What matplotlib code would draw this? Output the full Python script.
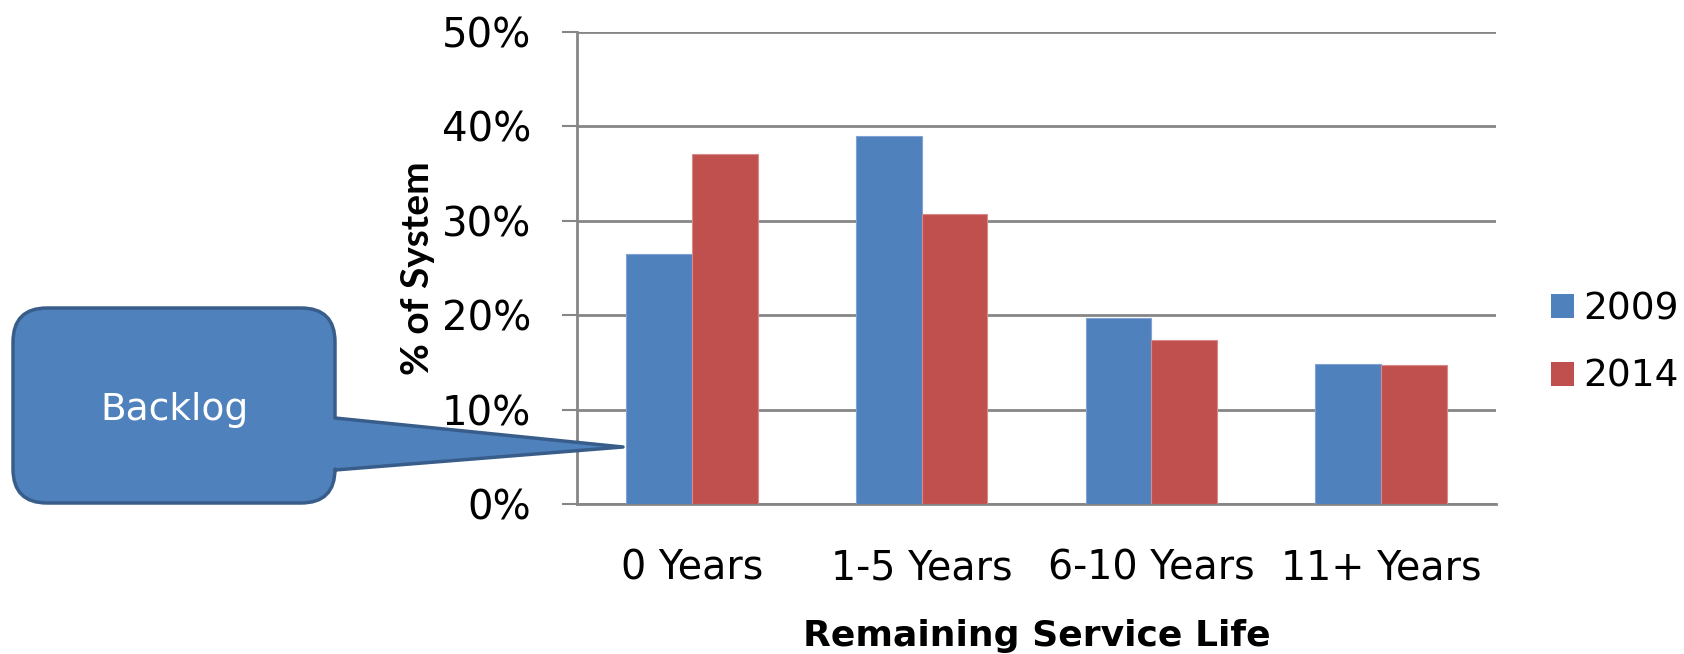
import matplotlib
matplotlib.use("Agg")
import matplotlib.pyplot as plt
import numpy as np
from matplotlib.path import Path
from matplotlib.patches import PathPatch, Patch

categories = ["0 Years", "1-5 Years", "6-10 Years", "11+ Years"]
series_names = ["2009", "2014"]
values_2009 = [26.5, 39.0, 19.7, 14.8]
values_2014 = [37.1, 30.7, 17.4, 14.7]
y_ticks = [0, 10, 20, 30, 40, 50]
y_tick_labels = ["0%", "10%", "20%", "30%", "40%", "50%"]
callout_text = "Backlog"

BLUE = "#4F81BD"
RED = "#C0504D"
GRID = "#868686"
FONT = "DejaVu Sans"

W, H = 1684, 654
fig = plt.figure(figsize=(W / 100, H / 100), dpi=100)
fig.patch.set_facecolor("white")

ax = fig.add_axes([577 / W, 1 - 504 / H, 919 / W, 472 / H])
ax.set_facecolor("none")

x = np.arange(len(categories))
bw = 0.286
ax.bar(x - bw / 2, values_2009, bw, color=BLUE, edgecolor="#7FA3D3", linewidth=0.8, zorder=3)
ax.bar(x + bw / 2, values_2014, bw, color=RED, edgecolor="#D98A88", linewidth=0.8, zorder=3)

ax.set_xlim(-0.5, len(categories) - 0.5)
ax.set_ylim(0, 50)
ax.set_yticks(y_ticks)
ax.set_yticklabels(y_tick_labels, fontsize=29, family=FONT)
ax.set_xticks(x)
ax.set_xticklabels(categories, fontsize=28.5, family=FONT)
ax.yaxis.grid(True, color=GRID, linewidth=2, zorder=1)
ax.set_axisbelow(True)
for s in ["top", "right"]:
    ax.spines[s].set_visible(False)
ax.spines["left"].set_color(GRID)
ax.spines["left"].set_linewidth(2)
ax.spines["bottom"].set_color(GRID)
ax.spines["bottom"].set_linewidth(2)
ax.tick_params(axis="y", length=11, width=1.5, color=GRID, pad=22)
ax.tick_params(axis="x", length=0, pad=32)

ax.set_ylabel("% of System", fontsize=28, fontweight="bold", family="Lato")
ax.yaxis.set_label_coords(-0.174, 0.5)
ax.yaxis.label.set_va("center")
ax.set_xlabel("Remaining Service Life", fontsize=26, fontweight="bold", family=FONT)
ax.xaxis.set_label_coords(0.5, -0.28)
ax.xaxis.label.set_va("center")

# legend
handles = [Patch(facecolor=BLUE), Patch(facecolor=RED)]
leg = fig.legend(handles, series_names, loc="center left", bbox_to_anchor=(1536 / W, 1 - 343 / H),
                 frameon=False, prop={"family": FONT, "size": 27}, handlelength=0.62,
                 handleheight=0.62, handletextpad=0.25, labelspacing=0.85, borderaxespad=0)

# callout shape (pixel coords, y from top)
def P(px, py):
    return (px / W, 1 - py / H)

L, R, T, B, r = 13, 335, 308, 503, 34
pts = [
    (L + r, T), (R - r, T), (R, T), (R, T + r),
    (R, 418), (623, 447), (R, 470),
    (R, B - r), (R, B), (R - r, B),
    (L + r, B), (L, B), (L, B - r),
    (L, T + r), (L, T), (L + r, T),
]
codes = [Path.MOVETO, Path.LINETO, Path.CURVE3, Path.CURVE3,
         Path.LINETO, Path.LINETO, Path.LINETO,
         Path.LINETO, Path.CURVE3, Path.CURVE3,
         Path.LINETO, Path.CURVE3, Path.CURVE3,
         Path.LINETO, Path.CURVE3, Path.CURVE3]
path = Path([P(*p) for p in pts], codes)
fig.patches.append(PathPatch(path, facecolor=BLUE, edgecolor="#385D8A", linewidth=2.5,
                             transform=fig.transFigure, zorder=5, joinstyle="round"))
fig.text(174 / W, 1 - 410 / H, callout_text, color="white", fontsize=27, family=FONT,
         ha="center", va="center", zorder=6)

fig.savefig("out.png", dpi=100)
